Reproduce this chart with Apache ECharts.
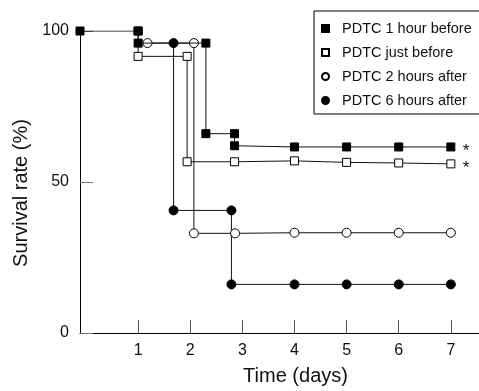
<!DOCTYPE html>
<html>
<head>
<meta charset="utf-8">
<script src="https://cdn.jsdelivr.net/npm/echarts@6/dist/echarts.min.js"></script>
<style>
  html, body { margin: 0; padding: 0; background: #fff; }
  #chart { width: 479px; height: 391px; }
</style>
</head>
<body>
<div id="chart"></div>
<script>
// vertices of each step curve, [day, survival %]
const hourBefore = [[-0.115, 100], [1, 100], [1, 96], [2.3, 96], [2.3, 66], [2.85, 66], [2.85, 62], [4, 61.6], [5, 61.6], [6, 61.6], [7, 61.6]]
const justBefore = [[1, 100], [1, 91.6], [1.94, 91.6], [1.94, 56.7], [2.85, 56.7], [4, 57], [5, 56.5], [6, 56.3], [7, 56]]
const twoHoursAfter = [[1.18, 96], [2.07, 96], [2.07, 33], [2.86, 33], [4, 33.2], [5, 33.2], [6, 33.2], [7, 33.2]]
const sixHoursAfter = [[1.68, 96], [1.68, 40.6], [2.79, 40.6], [2.79, 16.1], [4, 16.1], [5, 16.1], [6, 16.1], [7, 16.1]]

const dayTicks = [1, 2, 3, 4, 5, 6, 7]
const seriesNames = ['PDTC 1 hour before', 'PDTC just before', 'PDTC 2 hours after', 'PDTC 6 hours after']

const font = 'Liberation Sans, Arial, sans-serif'

const makeSeries = (name, data, symbol, filled, star, z) => ({
  name,
  type: 'line',
  data,
  symbol,
  symbolSize: symbol === 'rect' ? 8 : 9,
  showAllSymbol: true,
  lineStyle: { color: '#111', width: 1 },
  itemStyle: {
    color: filled ? '#000' : '#fff',
    borderColor: '#000',
    borderWidth: 1
  },
  endLabel: {
    show: star,
    formatter: '*',
    distance: 12,
    offset: [0, 4],
    fontSize: 17,
    fontFamily: font,
    color: '#111'
  },
  emphasis: { disabled: true },
  animation: false,
  z
})

const chart = echarts.init(document.getElementById('chart'))

chart.setOption({
  backgroundColor: '#fff',
  animation: false,
  grid: { left: 80, right: 0, top: 31, bottom: 52 },
  legend: {
    orient: 'vertical',
    left: 314,
    top: 11,
    padding: [10, 30, 6, 7],
    itemGap: 9,
    itemWidth: 7,
    itemHeight: 7,
    borderColor: '#000',
    borderWidth: 1,
    backgroundColor: '#fff',
    selectedMode: false,
    data: [
      { name: seriesNames[0], icon: 'rect' },
      { name: seriesNames[1], icon: 'rect' },
      { name: seriesNames[2], icon: 'circle' },
      { name: seriesNames[3], icon: 'circle' }
    ],
    textStyle: {
      fontSize: 14.5,
      fontFamily: font,
      color: '#111',
      lineHeight: 14,
      padding: [0, 0, 0, 8]
    }
  },
  xAxis: {
    type: 'value',
    min: -0.115,
    max: 7.54,
    name: 'Time (days)',
    nameLocation: 'middle',
    nameGap: 33,
    nameTextStyle: { fontSize: 20, fontFamily: font, color: '#111', padding: [0, 0, 0, 32] },
    axisLine: { onZero: false, lineStyle: { color: '#000', width: 1 } },
    axisTick: { inside: true, length: 13, lineStyle: { color: '#555' }, customValues: dayTicks },
    axisLabel: { fontSize: 16, fontFamily: font, color: '#111', margin: 10, customValues: dayTicks },
    splitLine: { show: false }
  },
  yAxis: {
    type: 'value',
    min: 0,
    max: 100,
    interval: 50,
    name: 'Survival rate (%)',
    nameLocation: 'middle',
    nameGap: 44,
    nameTextStyle: { fontSize: 20, fontFamily: font, color: '#111', padding: [0, 22, 0, 0] },
    axisLine: { show: true, onZero: false, lineStyle: { color: '#000', width: 1 } },
    axisTick: { show: true, inside: true, length: 13, lineStyle: { color: '#777' } },
    axisLabel: { fontSize: 16, fontFamily: font, color: '#111', margin: 11 },
    splitLine: { show: false }
  },
  series: [
    makeSeries(seriesNames[0], hourBefore, 'rect', true, true, 5),
    makeSeries(seriesNames[1], justBefore, 'rect', false, true, 4),
    makeSeries(seriesNames[2], twoHoursAfter, 'circle', false, false, 3),
    makeSeries(seriesNames[3], sixHoursAfter, 'circle', true, false, 3)
  ]
})
</script>
</body>
</html>
